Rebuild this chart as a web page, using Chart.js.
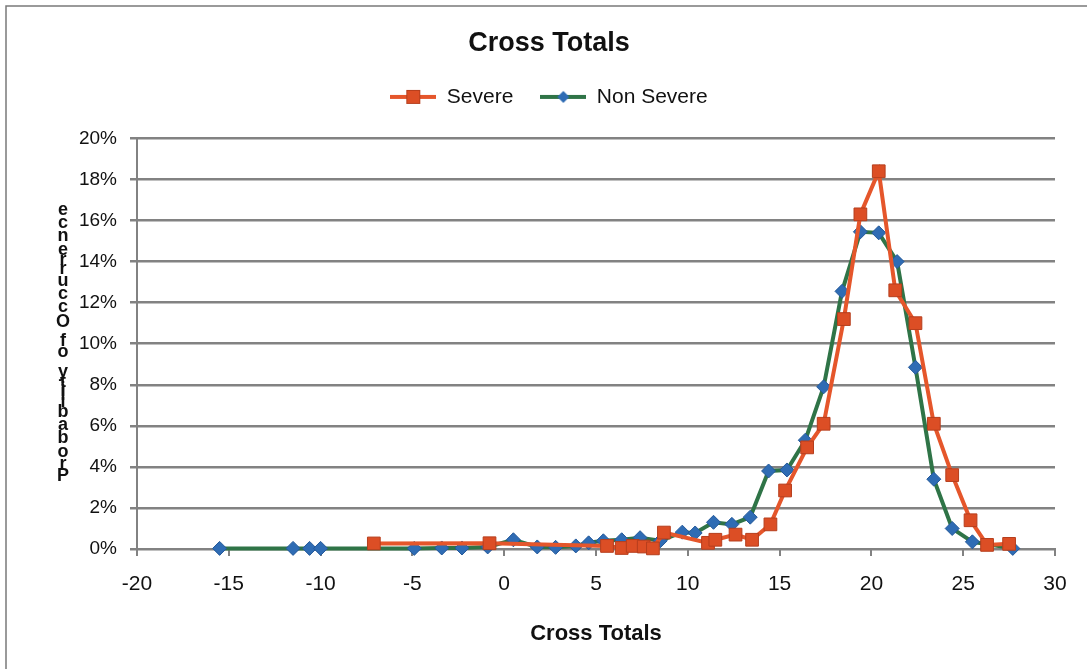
<!DOCTYPE html>
<html lang="en">
<head>
<meta charset="UTF-8">
<title>Cross Totals</title>
<style>
  html, body { margin: 0; padding: 0; background: #fff; }
  #wrap { position: relative; width: 1087px; height: 669px; }
</style>
</head>
<body>
<div id="wrap"><canvas id="crossChart" width="1087" height="669"></canvas></div>

<script src="https://cdn.jsdelivr.net/npm/chart.js"></script>
<script>
// values (x = cross total, y = % of occurrences)
const severeX = [-7.1, -0.8, 5.6, 6.4, 7.0, 7.6, 8.1, 8.7, 11.1, 11.5, 12.6, 13.5, 14.5,
                 15.3, 16.5, 17.4, 18.5, 19.4, 20.4, 21.3, 22.4, 23.4, 24.4, 25.4, 26.3, 27.5];
const severeY = [0.27, 0.28, 0.15, 0.05, 0.15, 0.12, 0.03, 0.8, 0.3, 0.45, 0.7, 0.45, 1.2,
                 2.85, 4.95, 6.1, 11.2, 16.3, 18.4, 12.6, 11.0, 6.1, 3.6, 1.4, 0.2, 0.25];

const nonSevereX = [-15.5, -11.5, -10.6, -10.0, -4.9, -3.4, -2.3, -0.9, 0.5, 1.8, 2.8, 3.9,
                    4.6, 5.4, 6.4, 7.4, 8.5, 9.7, 10.4, 11.4, 12.4, 13.4, 14.4, 15.4, 16.4,
                    17.4, 18.4, 19.4, 20.4, 21.4, 22.4, 23.4, 24.4, 25.5, 27.7];
const nonSevereY = [0.03, 0.03, 0.03, 0.03, 0.03, 0.05, 0.05, 0.1, 0.45, 0.1, 0.08, 0.15,
                    0.3, 0.4, 0.45, 0.55, 0.4, 0.82, 0.78, 1.3, 1.2, 1.55, 3.8, 3.85, 5.3,
                    7.9, 12.55, 15.45, 15.4, 14.0, 8.85, 3.4, 1.0, 0.35, 0.03];

const seriesNames = ['Severe', 'Non Severe'];
const xRange = [-20, 30], xStep = 5;
const yRange = [0, 20], yStep = 2;
const chartTitle = 'Cross Totals';
const xTitle = 'Cross Totals';
const yTitle = 'Probability of Occurrence';

const FONT = '"Liberation Sans", Arial, sans-serif';
const RED_LINE = '#E5562B', RED_FILL = '#DC4E25', RED_EDGE = '#B63E1D';
const GREEN_LINE = '#2F7447', BLUE_FILL = '#2F6CB4', BLUE_EDGE = '#24599A';
const GRID = '#828282';

function toPoints(xs, ys) {
    return xs.map((x, i) => ({ x: x, y: ys[i] }));
}

// little line+marker pictures for the legend
function legendIcon(lineColor, marker) {
    const c = document.createElement('canvas');
    c.width = 46; c.height = 16;
    const g = c.getContext('2d');
    g.strokeStyle = lineColor; g.lineWidth = 4;
    g.beginPath(); g.moveTo(0, 8); g.lineTo(46, 8); g.stroke();
    marker(g);
    return c;
}
const legendIcons = [
    legendIcon(RED_LINE, g => {
        g.fillStyle = RED_FILL; g.strokeStyle = RED_EDGE; g.lineWidth = 1;
        g.fillRect(16, 1, 14, 14); g.strokeRect(16.5, 1.5, 13, 13);
    }),
    legendIcon(GREEN_LINE, g => {
        g.fillStyle = BLUE_FILL;
        g.beginPath(); g.moveTo(23, 2); g.lineTo(29, 8); g.lineTo(23, 14); g.lineTo(17, 8);
        g.closePath(); g.fill();
    })
];

const framePlugin = {
    id: 'frame',
    beforeDraw(chart) {
        const ctx = chart.ctx;
        ctx.save();
        ctx.fillStyle = '#fff';
        ctx.fillRect(0, 0, chart.width, chart.height);
        ctx.strokeStyle = '#7a7a7a';
        ctx.lineWidth = 1.5;
        ctx.beginPath();
        ctx.moveTo(6, chart.height); ctx.lineTo(6, 6); ctx.lineTo(chart.width, 6);
        ctx.stroke();
        ctx.restore();
    }
};

// the original's axis title comes out as upright letters stacked bottom to top
const stackedTitlePlugin = {
    id: 'stackedTitle',
    afterDraw(chart) {
        const ctx = chart.ctx;
        const area = chart.chartArea;
        ctx.save();
        ctx.font = 'bold 18px ' + FONT;
        ctx.fillStyle = '#111';
        ctx.textAlign = 'center';
        ctx.textBaseline = 'middle';
        const chars = [...yTitle];
        const widths = chars.map(ch => ctx.measureText(ch).width);
        const total = widths.reduce((a, b) => a + b, 0);
        const span = 280;
        const k = span / total;
        const bottom = (area.top + area.bottom) / 2 + span / 2;
        let cum = 0;
        chars.forEach((ch, i) => {
            const cy = bottom - (cum + widths[i] / 2) * k;
            ctx.fillText(ch, 63, cy);
            cum += widths[i];
        });
        ctx.restore();
    }
};

// push the plot down so its top lands where the original's does
const legendGapPlugin = {
    id: 'legendGap',
    beforeInit(chart) {
        const fit = chart.legend.fit;
        chart.legend.fit = function () {
            fit.call(this);
            this.height += 21;
        };
    }
};

new Chart(document.getElementById('crossChart'), {
    type: 'scatter',
    data: {
        datasets: [{
            label: seriesNames[0],
            data: toPoints(severeX, severeY),
            showLine: true,
            clip: false,
            borderColor: RED_LINE,
            borderWidth: 4,
            pointStyle: 'rect',
            pointRadius: 9,
            pointBackgroundColor: RED_FILL,
            pointBorderColor: RED_EDGE,
            pointBorderWidth: 1
        }, {
            label: seriesNames[1],
            data: toPoints(nonSevereX, nonSevereY),
            showLine: true,
            clip: false,
            borderColor: GREEN_LINE,
            borderWidth: 4,
            pointStyle: 'rectRot',
            pointRadius: 7,
            pointBackgroundColor: BLUE_FILL,
            pointBorderColor: BLUE_EDGE,
            pointBorderWidth: 1
        }]
    },
    options: {
        responsive: false,
        devicePixelRatio: 1,
        animation: false,
        // left padding centres the title/legend where the original has them
        layout: { padding: { left: 43, right: 32, top: 0, bottom: 0 } },
        plugins: {
            title: {
                display: true,
                text: chartTitle,
                color: '#111',
                font: { family: FONT, size: 27, weight: 'bold' },
                padding: { top: 27, bottom: 0 }
            },
            legend: {
                labels: {
                    usePointStyle: true,
                    pointStyleWidth: 46,
                    padding: 27,
                    color: '#111',
                    font: { family: FONT, size: 21 },
                    generateLabels(chart) {
                        const items = Chart.defaults.plugins.legend.labels.generateLabels(chart);
                        items.forEach((it, i) => { it.pointStyle = legendIcons[i]; });
                        return items;
                    }
                }
            },
            tooltip: { enabled: false }
        },
        scales: {
            x: {
                type: 'linear',
                min: xRange[0],
                max: xRange[1],
                ticks: { stepSize: xStep, padding: 16, color: '#111', font: { family: FONT, size: 21 } },
                grid: { drawOnChartArea: false, drawTicks: true, tickLength: 7, color: GRID, lineWidth: 2 },
                border: { color: GRID, width: 2 },
                title: {
                    display: true,
                    text: xTitle,
                    color: '#111',
                    font: { family: FONT, size: 22, weight: 'bold' },
                    padding: { top: 0, bottom: 22 }
                },
                afterFit(scale) { scale.height = 120; }
            },
            y: {
                min: yRange[0],
                max: yRange[1],
                ticks: {
                    stepSize: yStep,
                    padding: 13,
                    color: '#111',
                    font: { family: FONT, size: 19 },
                    callback: v => v + '%'
                },
                grid: { color: GRID, lineWidth: 2.5, tickLength: 7 },
                border: { color: GRID, width: 2 },
                afterFit(scale) { scale.width = 94; }
            }
        }
    },
    plugins: [framePlugin, stackedTitlePlugin, legendGapPlugin]
});
</script>
</body>
</html>
